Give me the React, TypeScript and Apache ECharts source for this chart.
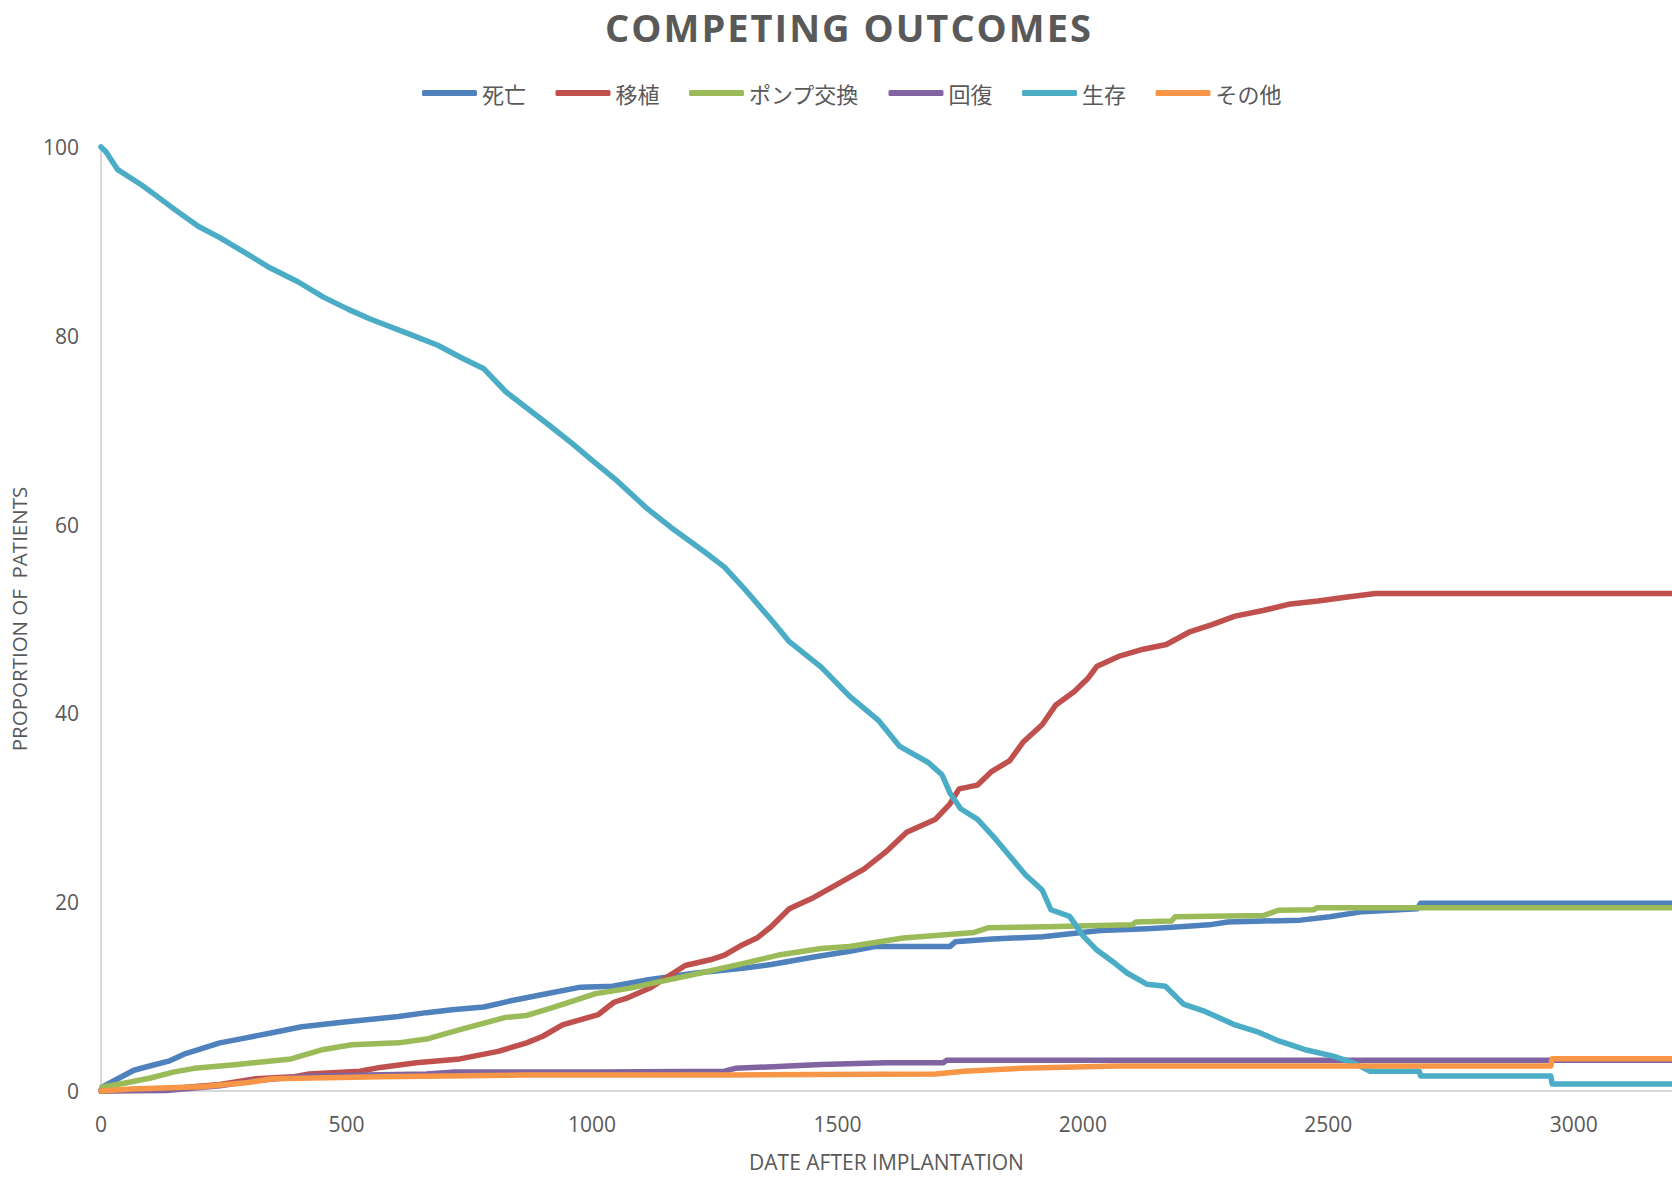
import React, { useEffect, useRef } from "react";
import * as echarts from "echarts";

const chartTitle = "COMPETING OUTCOMES";
const xAxisName = "DATE AFTER IMPLANTATION";
const yAxisName = "PROPORTION OF  PATIENTS";
const xTicks = [0, 500, 1000, 1500, 2000, 2500, 3000];
const yTicks = [0, 20, 40, 60, 80, 100];
const seriesNames = ["死亡", "移植", "ポンプ交換", "回復", "生存", "その他"];
const seriesColors = ["#4F81BD", "#C0504D", "#9BBB59", "#8064A2", "#4BACC6", "#F79646"];

const deathData = [
  [0, 0], [2, 0.4], [38, 1.4], [67, 2.2], [103, 2.7], [140, 3.2], [169, 3.9], [205, 4.5], [242, 5.1],
  [293, 5.6], [351, 6.2], [409, 6.8], [496, 7.3], [606, 7.9], [663, 8.3], [715, 8.6], [780, 8.9],
  [830, 9.5], [897, 10.2], [977, 11.0], [1042, 11.1], [1115, 11.8], [1212, 12.5], [1307, 13.0],
  [1365, 13.4], [1452, 14.2], [1525, 14.8], [1576, 15.3], [1729, 15.3], [1740, 15.8], [1816, 16.1],
  [1918, 16.35], [1984, 16.7], [2035, 17.0], [2131, 17.2], [2198, 17.4], [2257, 17.6], [2295, 17.9],
  [2443, 18.1], [2503, 18.45], [2570, 19.0], [2681, 19.3], [2688, 19.9], [3200, 19.9],
];

const transplantData = [
  [0, 0], [133, 0.2], [242, 0.7], [315, 1.3], [391, 1.5], [424, 1.8], [527, 2.1], [569, 2.5],
  [642, 3.0], [731, 3.4], [809, 4.2], [867, 5.1], [900, 5.8], [940, 7.0], [1013, 8.1], [1045, 9.4],
  [1074, 9.9], [1118, 10.9], [1154, 12.1], [1190, 13.3], [1241, 13.9], [1270, 14.4], [1307, 15.5],
  [1336, 16.2], [1365, 17.4], [1402, 19.3], [1452, 20.5], [1503, 22.0], [1554, 23.5], [1598, 25.3],
  [1641, 27.4], [1700, 28.8], [1729, 30.4], [1748, 32.0], [1785, 32.4], [1813, 33.8], [1851, 35.0],
  [1879, 37.0], [1917, 38.8], [1945, 40.9], [1982, 42.3], [2010, 43.7], [2029, 45.0], [2076, 46.1],
  [2123, 46.8], [2170, 47.3], [2216, 48.6], [2263, 49.4], [2310, 50.3], [2367, 50.9], [2423, 51.6],
  [2479, 51.9], [2535, 52.3], [2596, 52.7], [3200, 52.7],
];

const pumpData = [
  [0, 0], [2, 0.4], [55, 0.9], [103, 1.4], [147, 2.0], [190, 2.4], [278, 2.8], [387, 3.4], [453, 4.4],
  [511, 4.9], [606, 5.1], [663, 5.5], [731, 6.5], [824, 7.8], [867, 8.0], [918, 8.8], [1006, 10.3],
  [1078, 10.9], [1122, 11.4], [1212, 12.4], [1307, 13.5], [1380, 14.4], [1467, 15.1], [1525, 15.3],
  [1634, 16.2], [1707, 16.5], [1779, 16.8], [1808, 17.3], [1925, 17.4], [2100, 17.6], [2108, 17.9],
  [2180, 18.0], [2188, 18.45], [2369, 18.6], [2385, 18.9], [2398, 19.15], [2470, 19.2], [2477, 19.4],
  [3200, 19.4],
];

const recoveryData = [
  [0, 0], [133, 0.05], [242, 0.55], [315, 1.1], [424, 1.6], [663, 1.8], [715, 2.0], [1016, 2.0],
  [1270, 2.1], [1292, 2.4], [1467, 2.8], [1598, 3.0], [1716, 3.0], [1722, 3.25], [3200, 3.25],
];

const survivalData = [
  [0, 100], [10, 99.5], [34, 97.6], [82, 96.0], [111, 94.9], [147, 93.5], [198, 91.6], [242, 90.4],
  [300, 88.6], [344, 87.2], [402, 85.7], [453, 84.1], [504, 82.8], [547, 81.8], [627, 80.2],
  [686, 79.0], [737, 77.6], [780, 76.5], [824, 74.1], [911, 70.6], [962, 68.5], [998, 66.9],
  [1052, 64.6], [1110, 61.8], [1161, 59.7], [1227, 57.2], [1270, 55.5], [1314, 53.0], [1372, 49.5],
  [1402, 47.6], [1467, 44.9], [1525, 41.8], [1583, 39.3], [1627, 36.5], [1685, 34.8], [1713, 33.5],
  [1729, 31.6], [1751, 29.9], [1785, 28.8], [1822, 26.7], [1851, 24.9], [1883, 22.9], [1917, 21.3],
  [1935, 19.2], [1973, 18.5], [2001, 16.4], [2029, 14.9], [2066, 13.5], [2090, 12.5], [2131, 11.3],
  [2168, 11.1], [2205, 9.2], [2250, 8.4], [2310, 7.0], [2354, 6.3], [2399, 5.3], [2451, 4.4],
  [2510, 3.7], [2555, 2.9], [2584, 2.1], [2685, 2.1], [2688, 1.6], [2953, 1.6], [2956, 0.74],
  [3200, 0.74],
];

const otherData = [
  [0, 0], [60, 0.2], [205, 0.45], [300, 0.9], [351, 1.3], [569, 1.5], [860, 1.7], [1278, 1.7],
  [1700, 1.8], [1758, 2.1], [1874, 2.4], [1984, 2.55], [2071, 2.65], [2953, 2.65], [2956, 3.42],
  [3200, 3.42],
];

const allData = [deathData, transplantData, pumpData, recoveryData, survivalData, otherData];

const FONT = "'Open Sans', 'Noto Sans CJK JP', sans-serif";
const CJK = "'Noto Sans CJK JP', 'Open Sans', sans-serif";
const GRAY = "#595959";

export default function App() {
  const ref = useRef<HTMLDivElement>(null);
  useEffect(() => {
    if (!ref.current) return;
    const chart = echarts.init(ref.current, undefined, { renderer: "svg" });
    chart.setOption({
      animation: false,
      backgroundColor: "#ffffff",
      graphic: [
        {
          type: "text",
          x: 849,
          y: 27,
          style: {
            text: chartTitle,
            fill: GRAY,
            fontFamily: FONT,
            fontSize: 38,
            fontWeight: "bold",
            align: "center",
            verticalAlign: "middle",
            textAlign: "center",
            textVerticalAlign: "middle",
          },
        },
      ],
      legend: {
        data: seriesNames,
        left: 417,
        top: 77,
        itemWidth: 55,
        itemHeight: 6,
        itemGap: 29.5,
        icon: "roundRect",
        textStyle: { fontSize: 22, color: GRAY, fontFamily: CJK },
      },
      grid: { left: 101, right: 0, top: 147, bottom: 80, containLabel: false },
      xAxis: {
        type: "value",
        min: xTicks[0],
        max: 3200,
        interval: xTicks[1] - xTicks[0],
        name: xAxisName,
        nameLocation: "middle",
        nameGap: 60,
        nameTextStyle: { fontSize: 21, color: GRAY, fontFamily: FONT },
        axisLine: { show: true, lineStyle: { color: "#D9D9D9", width: 2 } },
        axisTick: { show: false },
        splitLine: { show: false },
        axisLabel: {
          fontSize: 21,
          color: GRAY,
          fontFamily: FONT,
          margin: 22,
          showMaxLabel: false,
          formatter: (v: number) => (xTicks.includes(v) ? String(v) : ""),
        },
      },
      yAxis: {
        type: "value",
        min: yTicks[0],
        max: yTicks[yTicks.length - 1],
        interval: yTicks[1] - yTicks[0],
        name: yAxisName,
        nameLocation: "middle",
        nameGap: 72,
        nameTextStyle: { fontSize: 20.5, color: GRAY, fontFamily: FONT },
        axisLine: { show: true, lineStyle: { color: "#D9D9D9", width: 2 } },
        axisTick: { show: false },
        splitLine: { show: false },
        axisLabel: { fontSize: 21, color: GRAY, fontFamily: FONT, margin: 22 },
      },
      series: seriesNames.map((name, i) => ({
        name,
        type: "line",
        data: allData[i],
        showSymbol: false,
        symbol: "none",
        clip: false,
        color: seriesColors[i],
        lineStyle: { width: 5.5, color: seriesColors[i], cap: "round", join: "round" },
        z: 2 + i,
      })),
    });
    return () => chart.dispose();
  }, []);
  return (
    <>
      <style>{"svg text[style*='bold']{letter-spacing:2px;}"}</style>
      <div
        ref={ref}
        style={{ position: "absolute", left: 0, top: 0, width: 1672, height: 1177 }}
      />
    </>
  );
}
